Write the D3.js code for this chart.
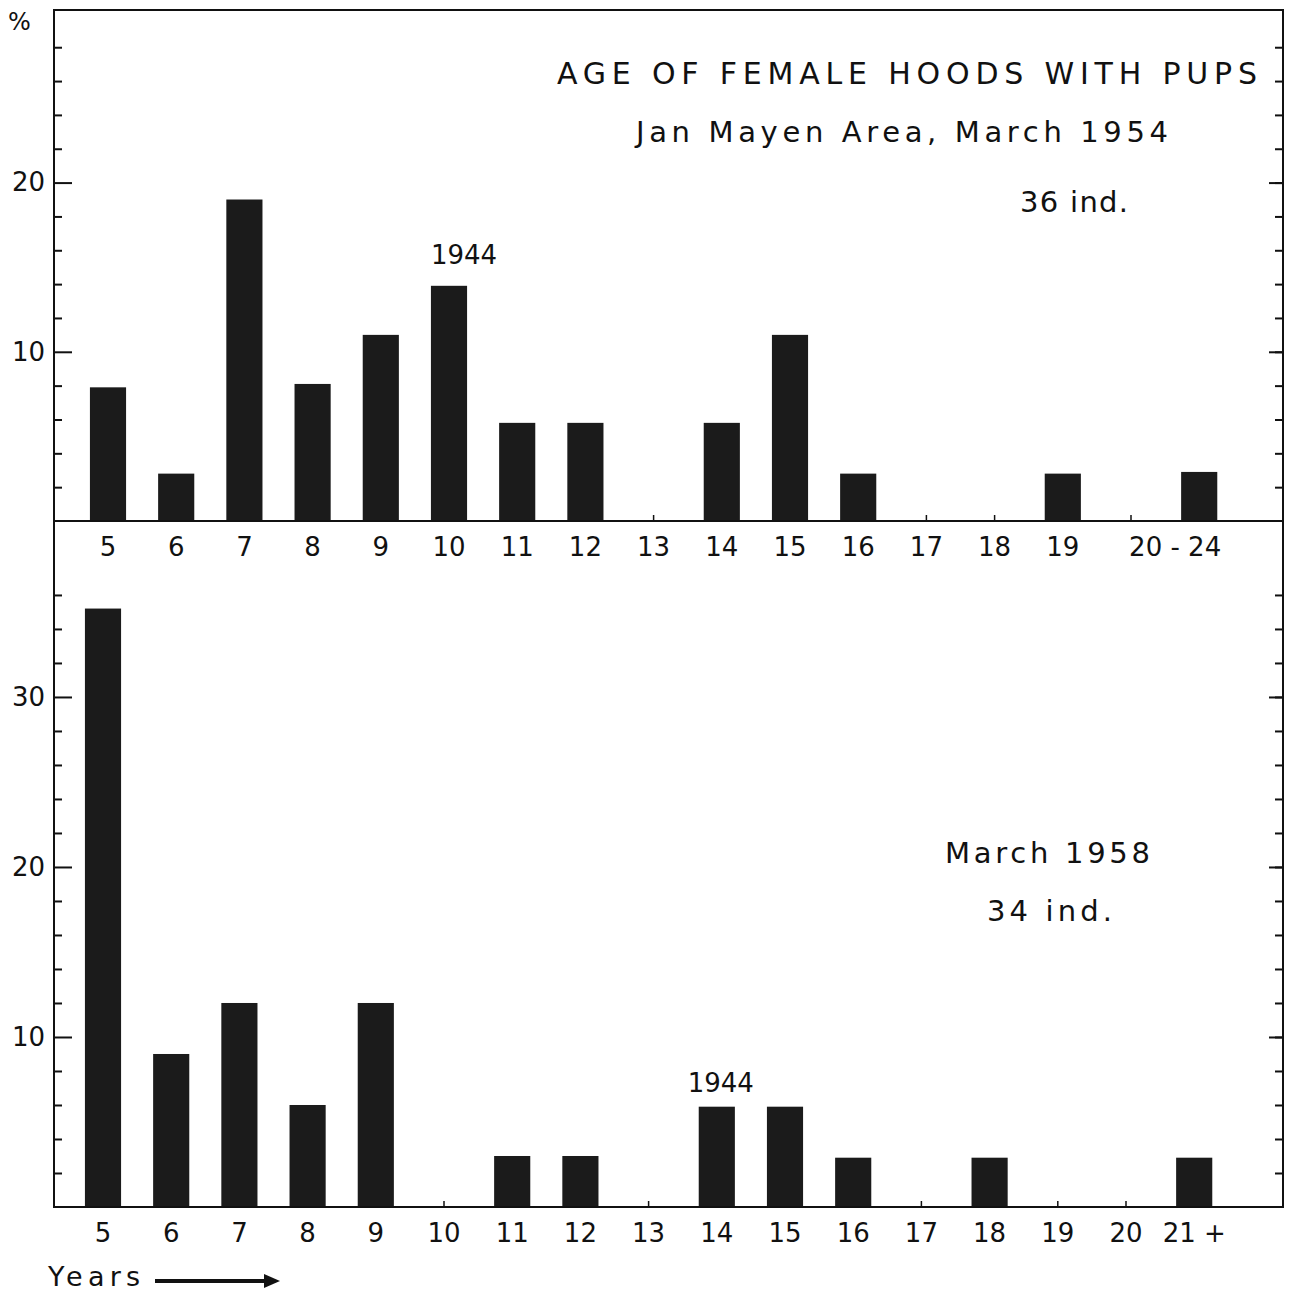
<!DOCTYPE html>
<html>
<head>
<meta charset="utf-8">
<script src="https://cdn.jsdelivr.net/npm/d3@7"></script>
<style>
  body { margin: 0; background: #fff; }
  svg { display: block; }
  text { font-family: "DejaVu Sans", sans-serif; fill: #111; }
  .frame { stroke: #111; stroke-width: 2; fill: none; }
  .bar { fill: #1b1b1b; }
</style>
</head>
<body>
<svg id="chart" width="1291" height="1292"></svg>
<script>
  // 1954 panel (36 ind.) - the empty "" slot keeps the gap before 20-24
  const topCategories = ['5','6','7','8','9','10','11','12','13','14','15','16','17','18','19','','20 - 24'];
  const topValues = [7.9, 2.8, 19, 8.1, 11, 13.9, 5.8, 5.8, 0, 5.8, 11, 2.8, 0, 0, 2.8, 0, 2.9];

  // 1958 panel (34 ind.)
  const bottomCategories = ['5','6','7','8','9','10','11','12','13','14','15','16','17','18','19','20','21 +'];
  const bottomValues = [35.2, 9, 12, 6, 12, 0, 3, 3, 0, 5.9, 5.9, 2.9, 0, 2.9, 0, 0, 2.9];

  const topMajorTicks = [10, 20];
  const bottomMajorTicks = [10, 20, 30];

  const svg = d3.select('#chart');
  const left = 54, right = 1283;
  const step = 68.2;

  function panel(cats, vals, yScale, xCenter0, majors, maxTick) {
    const x = d3.scaleBand()
      .domain(cats)
      .range([xCenter0 - step / 2, xCenter0 - step / 2 + step * cats.length])
      .paddingInner(0.47).paddingOuter(0.235);
    const g = svg.append('g');
    const y0 = yScale(0);

    g.selectAll('rect.bar').data(cats.map((c, i) => ({c, v: vals[i]})).filter(d => d.v > 0))
      .enter().append('rect')
      .attr('class', 'bar')
      .attr('x', d => x(d.c))
      .attr('width', x.bandwidth())
      .attr('y', d => yScale(d.v))
      .attr('height', d => y0 - yScale(d.v));

    // small ticks at empty slots
    g.selectAll('line.slot').data(cats.filter((c, i) => vals[i] === 0))
      .enter().append('line')
      .attr('x1', d => x(d) + x.bandwidth() / 2).attr('x2', d => x(d) + x.bandwidth() / 2)
      .attr('y1', y0).attr('y2', y0 - 6)
      .attr('stroke', '#111').attr('stroke-width', 1.5);

    // category labels
    g.selectAll('text.cat').data(cats)
      .enter().append('text')
      .attr('class', 'cat')
      .attr('x', d => d.includes(' - ') ? x(d) + x.bandwidth() / 2 + 22 : x(d) + x.bandwidth() / 2)
      .attr('y', y0 + 35)
      .attr('text-anchor', d => d.includes(' - ') ? 'end' : 'middle')
      .attr('font-size', 26)
      .text(d => d);

    // left axis: minor ticks every 2, majors with labels
    const minor = d3.range(2, maxTick + 1, 2).filter(v => !majors.includes(v));
    g.append('g').attr('transform', `translate(${left},0)`)
      .call(d3.axisLeft(yScale).tickValues(minor).tickSize(-8).tickFormat(''))
      .call(a => a.select('.domain').remove())
      .call(a => a.selectAll('line').attr('stroke', '#111').attr('stroke-width', 2));
    g.append('g').attr('transform', `translate(${left},0)`)
      .call(d3.axisLeft(yScale).tickValues(majors).tickSize(-18).tickPadding(9))
      .call(a => a.select('.domain').remove())
      .call(a => a.selectAll('line').attr('stroke', '#111').attr('stroke-width', 2))
      .call(a => a.selectAll('text').attr('font-size', 26).attr('font-family', 'DejaVu Sans').attr('fill', '#111'));

    // right axis ticks pointing inward
    g.append('g').attr('transform', `translate(${right},0)`)
      .call(d3.axisRight(yScale).tickValues(d3.range(2, maxTick + 1, 2)).tickSize(-8).tickFormat(''))
      .call(a => a.select('.domain').remove())
      .call(a => a.selectAll('line').attr('stroke', '#111').attr('stroke-width', 2));
    g.append('g').attr('transform', `translate(${right},0)`)
      .call(d3.axisRight(yScale).tickValues(majors).tickSize(-14).tickFormat(''))
      .call(a => a.select('.domain').remove())
      .call(a => a.selectAll('line').attr('stroke', '#111').attr('stroke-width', 2));
    return x;
  }

  const yTop = d3.scaleLinear().domain([0, 30.2]).range([521, 10]);
  const yBottom = d3.scaleLinear().domain([0, 40.35]).range([1207, 521]);

  const xTop = panel(topCategories, topValues, yTop, 108, topMajorTicks, 28);
  const xBottom = panel(bottomCategories, bottomValues, yBottom, 103, bottomMajorTicks, 36);

  // frame
  svg.append('rect').attr('class', 'frame')
    .attr('x', left).attr('y', 10).attr('width', right - left).attr('height', 1207 - 10);
  svg.append('line').attr('class', 'frame')
    .attr('x1', left).attr('x2', right).attr('y1', yTop(0)).attr('y2', yTop(0));

  // texts
  svg.append('text').attr('x', 8).attr('y', 30).attr('font-size', 24).text('%');

  svg.append('text').attr('x', 557).attr('y', 84).attr('font-size', 30)
    .attr('textLength', 700).attr('lengthAdjust', 'spacing')
    .text('AGE OF FEMALE HOODS WITH PUPS');
  svg.append('text').attr('x', 636).attr('y', 142).attr('font-size', 29)
    .attr('textLength', 532).attr('lengthAdjust', 'spacing')
    .text('Jan Mayen Area, March 1954');
  svg.append('text').attr('x', 1020).attr('y', 212).attr('font-size', 29)
    .attr('textLength', 108).attr('lengthAdjust', 'spacing')
    .text('36 ind.');

  svg.append('text').attr('x', xTop('10') + xTop.bandwidth() / 2 + 15).attr('y', yTop(13.9) - 22)
    .attr('text-anchor', 'middle').attr('font-size', 26).text('1944');
  svg.append('text').attr('x', xBottom('14') + xBottom.bandwidth() / 2 + 4).attr('y', yBottom(5.9) - 15)
    .attr('text-anchor', 'middle').attr('font-size', 26).text('1944');

  svg.append('text').attr('x', 945).attr('y', 863).attr('font-size', 29)
    .attr('textLength', 205).attr('lengthAdjust', 'spacing')
    .text('March 1958');
  svg.append('text').attr('x', 987).attr('y', 921).attr('font-size', 29)
    .attr('textLength', 125).attr('lengthAdjust', 'spacing')
    .text('34 ind.');

  svg.append('text').attr('x', 48).attr('y', 1286).attr('font-size', 27)
    .attr('textLength', 92).attr('lengthAdjust', 'spacing')
    .text('Years');
  svg.append('line').attr('x1', 155).attr('x2', 268).attr('y1', 1281).attr('y2', 1281)
    .attr('stroke', '#111').attr('stroke-width', 4);
  svg.append('path').attr('d', 'M264,1274 L280,1281 L264,1288 Z').attr('fill', '#111');
</script>
</body>
</html>
